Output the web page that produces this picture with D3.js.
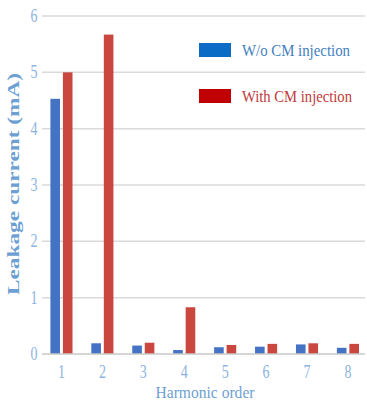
<!DOCTYPE html>
<html>
<head>
<meta charset="utf-8">
<script src="https://cdn.jsdelivr.net/npm/d3@7"></script>
<style>
  html, body { margin: 0; padding: 0; background: #fff; }
  svg { display: block; }
  text { font-family: "Liberation Serif", "Times New Roman", serif; }
</style>
</head>
<body>
<script>
// Leakage current per harmonic order, with and without CM injection
const categories = ["1", "2", "3", "4", "5", "6", "7", "8"];
const seriesNames = ["W/o CM injection", "With CM injection"];
const withoutInjection = [4.53, 0.19, 0.15, 0.07, 0.12, 0.13, 0.17, 0.11];
const withInjection = [5.0, 5.67, 0.2, 0.83, 0.16, 0.18, 0.19, 0.18];
const yTicks = [0, 1, 2, 3, 4, 5, 6];

const W = 367, H = 405;
const barColors = ["#4472c4", "#c9473f"];
const legendColors = ["#0a6cc4", "#c00000"];
const legendText = ["#3f7fc0", "#c03a3a"];

const svg = d3.select("body").append("svg").attr("width", W).attr("height", H);

const y = d3.scaleLinear().domain([0, 6]).range([354, 16]);
const x0 = d3.scaleBand().domain(categories).range([41, 368.4])
  .paddingInner(0.46).paddingOuter(0.23);
const x1 = d3.scaleBand().domain(seriesNames).range([0, x0.bandwidth()]).paddingInner(0.23);

const gridLeft = 42, gridRight = 365;

// horizontal gridlines
svg.append("g").selectAll("line").data(yTicks.filter(d => d > 0)).join("line")
  .attr("x1", gridLeft).attr("x2", gridRight)
  .attr("y1", d => y(d)).attr("y2", d => y(d))
  .attr("stroke", "#dadada").attr("stroke-width", 1.5);

// bars
const rows = categories.map((c, i) => ({ c, vals: [withoutInjection[i], withInjection[i]] }));
const groups = svg.append("g").selectAll("g").data(rows).join("g")
  .attr("transform", d => `translate(${x0(d.c)},0)`);
groups.selectAll("rect").data(d => d.vals.map((v, k) => ({ v, k }))).join("rect")
  .attr("x", d => x1(seriesNames[d.k]))
  .attr("width", x1.bandwidth())
  .attr("y", d => y(d.v))
  .attr("height", d => y(0) - y(d.v))
  .attr("fill", d => barColors[d.k]);

// baseline
svg.append("line").attr("x1", gridLeft).attr("x2", gridRight)
  .attr("y1", y(0)).attr("y2", y(0)).attr("stroke", "#c8c8c8").attr("stroke-width", 1.5);

// y tick labels
svg.append("g").selectAll("text").data(yTicks).join("text")
  .attr("x", 34).attr("y", d => y(d) + 6)
  .attr("text-anchor", "middle")
  .attr("font-size", 19).attr("fill", "#8db3df")
  .attr("textLength", 7).attr("lengthAdjust", "spacingAndGlyphs")
  .text(d => d);

// x tick labels
svg.append("g").selectAll("text").data(categories).join("text")
  .attr("x", d => x0(d) + x0.bandwidth() / 2).attr("y", 378)
  .attr("text-anchor", "middle")
  .attr("font-size", 19).attr("fill", "#8db3df")
  .attr("textLength", 7).attr("lengthAdjust", "spacingAndGlyphs")
  .text(d => d);

// axis titles
svg.append("text")
  .attr("transform", "translate(19,184) rotate(-90)")
  .attr("text-anchor", "middle")
  .attr("font-size", 16).attr("font-weight", "bold").attr("fill", "#6d9fd3")
  .attr("textLength", 222).attr("lengthAdjust", "spacingAndGlyphs")
  .text("Leakage current (mA)");

svg.append("text")
  .attr("x", 205).attr("y", 398)
  .attr("text-anchor", "middle")
  .attr("font-size", 17).attr("fill", "#6d9fd3")
  .attr("textLength", 99).attr("lengthAdjust", "spacingAndGlyphs")
  .text("Harmonic order");

// legend
const legend = svg.append("g").selectAll("g").data(seriesNames).join("g")
  .attr("transform", (d, i) => `translate(199,${43 + i * 46})`);
legend.append("rect").attr("width", 32).attr("height", 14)
  .attr("fill", (d, i) => legendColors[i]);
legend.append("text").attr("x", 43).attr("y", 13)
  .attr("font-size", 16).attr("fill", (d, i) => legendText[i])
  .attr("textLength", (d, i) => i === 0 ? 108 : 110).attr("lengthAdjust", "spacingAndGlyphs")
  .text(d => d);
</script>
</body>
</html>
